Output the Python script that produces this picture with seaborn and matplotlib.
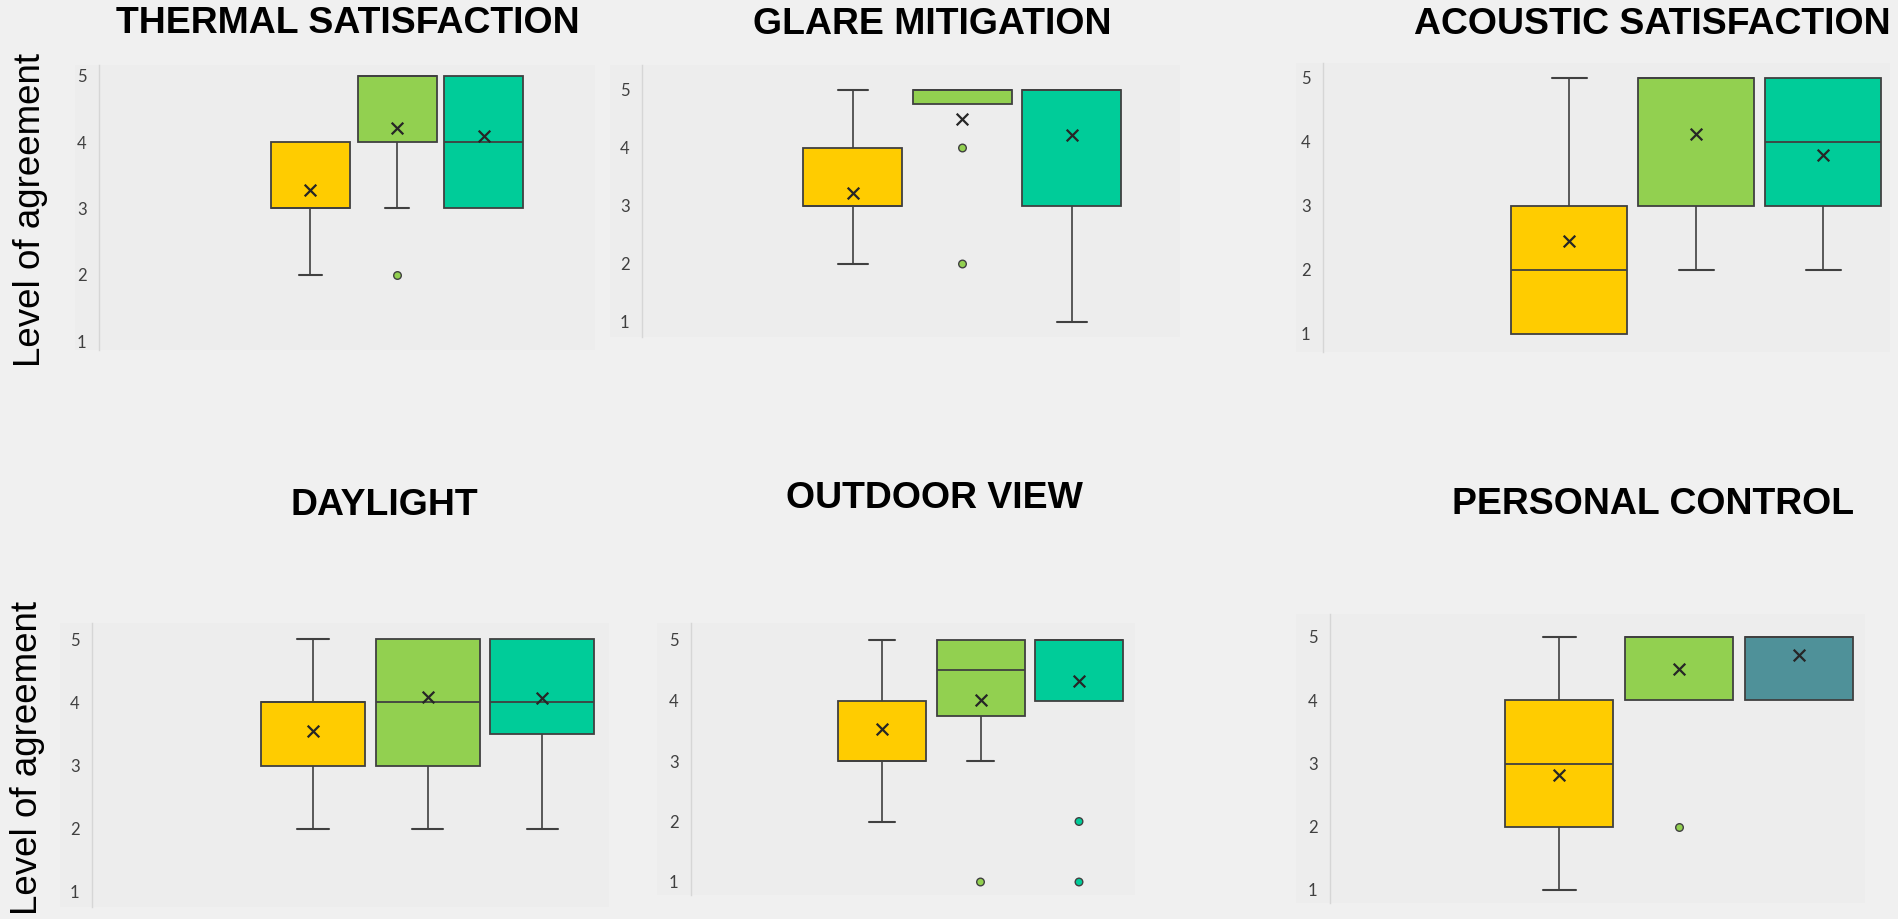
import matplotlib
matplotlib.use("Agg")
import numpy as np
import pandas as pd
import matplotlib.pyplot as plt
from matplotlib.patches import Rectangle
import seaborn as sns

# ---------------------------------------------------------------- data
titles = ["THERMAL SATISFACTION", "GLARE MITIGATION", "ACOUSTIC SATISFACTION",
          "DAYLIGHT", "OUTDOOR VIEW", "PERSONAL CONTROL"]
groups = ["Group 1", "Group 2", "Group 3"]
y_ticks = [1, 2, 3, 4, 5]
y_label = "Level of agreement"

# box-plot summaries: one row per panel, one value per group
whisker_low = [[2, 3, 3], [2, 4.75, 1], [1, 2, 2], [2, 2, 2], [2, 3, 4], [1, 4, 4]]
quartile_1 = [[3, 4, 3], [3, 4.75, 3], [1, 3, 3], [3, 3, 3.5], [3, 3.75, 4], [2, 4, 4]]
medians = [[3, 5, 4], [3, 5, 5], [2, 5, 4], [4, 4, 4], [3, 4.5, 5], [3, 5, 5]]
quartile_3 = [[4, 5, 5], [4, 5, 5], [3, 5, 5], [4, 5, 5], [4, 5, 5], [4, 5, 5]]
whisker_high = [[4, 5, 5], [5, 5, 5], [5, 5, 5], [5, 5, 5], [5, 5, 5], [5, 5, 5]]
means = [[3.28, 4.21, 4.09], [3.22, 4.50, 4.23], [2.46, 4.12, 3.79],
         [3.55, 4.08, 4.06], [3.53, 4.01, 4.33], [2.82, 4.49, 4.72]]
outliers = [[[], [2], []], [[], [4, 2], []], [[], [], []],
            [[], [], []], [[], [1], [2, 1]], [[], [2], []]]

# ---------------------------------------------------------------- style
W, H = 1899, 919
FIG_BG = "#F0F0F0"
PLOT_BG = "#EDEDED"
EDGE = "#404040"
MEAN_C = "#262626"
TICK_C = "#404040"
AXIS_LINE = "#D6D6D6"
box_colors = [["#FFCC00", "#92D050", "#00CC99"]] * 5 + [["#FFCC00", "#92D050", "#4F9199"]]

# panel geometry in pixels: plot background (left, right, top, bottom),
# y-axis line, y of ticks 5 and 1, centres of first/last box, box width,
# title centre x and baseline y
layout = [
    dict(bg=(75, 595, 65, 350), spine=99, y5=76, y1=341, c0=310.5, c2=484, w=79, title=(348, 33)),
    dict(bg=(610, 1180, 65, 337), spine=642, y5=90, y1=322, c0=853, c2=1072, w=99, title=(932, 34)),
    dict(bg=(1296, 1890, 63, 352), spine=1323, y5=78, y1=334, c0=1569.5, c2=1823.5, w=116, title=(1652, 34)),
    dict(bg=(60, 609, 623, 907), spine=92, y5=639, y1=892, c0=313, c2=542.5, w=104, title=(384, 515)),
    dict(bg=(657, 1135, 623, 895), spine=691, y5=640, y1=882, c0=882, c2=1079, w=88, title=(934, 508)),
    dict(bg=(1296, 1865, 614, 903), spine=1330, y5=637, y1=890, c0=1559.5, c2=1799, w=108, title=(1653, 514)),
]
title_widths = [466, 359, 479, 188, 295, 399]
ylabel_pos = [(31, 210), (28, 758)]

sns.set_theme(style="white")
plt.rcParams["font.family"] = ["Liberation Sans", "DejaVu Sans"]

fig = plt.figure(figsize=(W / 100, H / 100), dpi=100, facecolor=FIG_BG)

for i, g in enumerate(layout):
    bl, br, bt, bb = g["bg"]
    sp = g["spine"]
    # strip of background to the left of the axis line (holds tick labels)
    fig.add_artist(Rectangle((bl / W, 1 - bb / H), (sp - bl) / W, (bb - bt) / H,
                             transform=fig.transFigure, facecolor=PLOT_BG,
                             edgecolor="none", zorder=-1))
    ax = fig.add_axes([sp / W, 1 - bb / H, (br - sp) / W, (bb - bt) / H])
    ax.set_facecolor(PLOT_BG)

    step = (g["c2"] - g["c0"]) / 2.0
    unit = (g["y1"] - g["y5"]) / 4.0
    width = g["w"] / step

    stats = []
    for j in range(3):
        stats.append(dict(whislo=whisker_low[i][j], q1=quartile_1[i][j],
                          med=medians[i][j], q3=quartile_3[i][j],
                          whishi=whisker_high[i][j], fliers=[], mean=means[i][j]))
    art = ax.bxp(stats, positions=[0, 1, 2], widths=width, patch_artist=True,
                 showfliers=False, showmeans=False, capwidths=width * 0.3,
                 boxprops=dict(edgecolor=EDGE, linewidth=1.3),
                 medianprops=dict(color=EDGE, linewidth=1.3, solid_capstyle="butt"),
                 whiskerprops=dict(color=EDGE, linewidth=1.2),
                 capprops=dict(color=EDGE, linewidth=1.5))
    for j, patch in enumerate(art["boxes"]):
        patch.set_facecolor(box_colors[i][j])
        patch.set_zorder(3)
    for line in art["medians"]:
        line.set_zorder(4)
    for j in range(3):
        if whisker_low[i][j] >= quartile_1[i][j]:
            art["caps"][2 * j].set_visible(False)
            art["whiskers"][2 * j].set_visible(False)
        if whisker_high[i][j] <= quartile_3[i][j]:
            art["caps"][2 * j + 1].set_visible(False)
            art["whiskers"][2 * j + 1].set_visible(False)

    # outlying responses
    fl = pd.DataFrame([(j, v, groups[j]) for j in range(3) for v in outliers[i][j]],
                      columns=["pos", "value", "group"])
    if len(fl):
        sns.scatterplot(data=fl, x="pos", y="value", hue="group",
                        palette=dict(zip(groups, box_colors[i])), s=30,
                        edgecolor=EDGE, linewidth=1.0, legend=False, ax=ax, zorder=6)

    # mean markers
    mn = pd.DataFrame({"pos": [0, 1, 2], "value": means[i]})
    sns.scatterplot(data=mn, x="pos", y="value", marker="x", color=MEAN_C, s=70,
                    linewidth=1.6, legend=False, ax=ax, zorder=7)

    ax.set_xlim((sp - g["c0"]) / step, (br - g["c0"]) / step)
    ax.set_ylim(1 - (bb - g["y1"]) / unit, 5 + (g["y5"] - bt) / unit)
    ax.set_xticks([])
    ax.set_yticks(y_ticks)
    ax.set_yticklabels([str(t) for t in y_ticks], family=["Lato", "DejaVu Sans"])
    ax.tick_params(axis="y", length=0, pad=9, labelsize=12, labelcolor=TICK_C)
    ax.set_xlabel("")
    ax.set_ylabel("")
    for s in ("top", "right", "bottom"):
        ax.spines[s].set_visible(False)
    ax.spines["left"].set_color(AXIS_LINE)
    ax.spines["left"].set_linewidth(1.0)

# panel titles, sized so their widths follow the layout
title_texts = []
for i, g in enumerate(layout):
    cx, cy = g["title"]
    t = fig.text(cx / W, 1 - cy / H, titles[i], ha="center", va="baseline",
                 fontsize=27, fontweight="bold", color="black",
                 family=["Liberation Sans", "DejaVu Sans"])
    title_texts.append(t)
fig.canvas.draw()
renderer = fig.canvas.get_renderer()
ratios = [title_widths[i] / t.get_window_extent(renderer).width
          for i, t in enumerate(title_texts)]
scale = float(np.mean(ratios))
for t in title_texts:
    t.set_fontsize(27 * scale)

for (x, y) in ylabel_pos:
    fig.text(x / W, 1 - y / H, y_label, rotation=90, ha="center", va="center",
             fontsize=26.5, color="black", family=["Liberation Sans", "DejaVu Sans"])

fig.savefig("out.png", dpi=100, facecolor=FIG_BG)
